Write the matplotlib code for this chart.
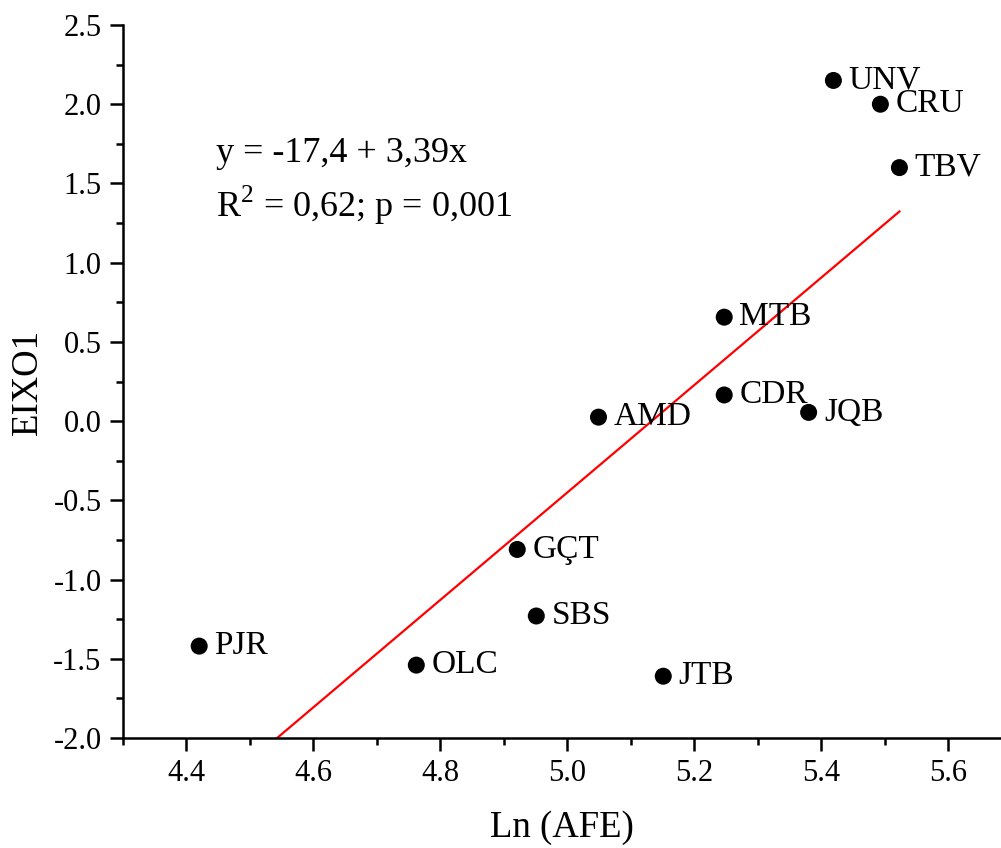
import matplotlib
matplotlib.use("Agg")
import matplotlib.pyplot as plt
import numpy as np
from matplotlib.ticker import MultipleLocator, FormatStrFormatter

plt.rcParams['font.family'] = ['Liberation Serif', 'DejaVu Serif']
plt.rcParams['mathtext.fontset'] = 'custom'
plt.rcParams['mathtext.rm'] = 'Liberation Serif'

labels = ["UNV", "CRU", "TBV", "MTB", "CDR", "JQB", "AMD", "GÇT", "SBS", "PJR", "OLC", "JTB"]
ln_afe = [5.419, 5.493, 5.523, 5.247, 5.247, 5.380, 5.049, 4.921, 4.951, 4.420, 4.762, 5.151]
eixo1 = [2.15, 2.00, 1.60, 0.656, 0.165, 0.055, 0.025, -0.81, -1.23, -1.42, -1.54, -1.61]

intercept = -17.4
slope = 3.39
fit_x = [(-2.0 - intercept) / slope, 5.523]

fig = plt.figure(figsize=(10.01, 8.48), dpi=100)
ax = fig.add_axes([123/1001, 110/848, (1001-123)/1001, (738-25)/848])

fx = np.array(fit_x)
ax.plot(fx, intercept + slope * fx, color='#ff0000', lw=1.6, zorder=2)
ax.scatter(ln_afe, eixo1, s=150, color='black', zorder=3, edgecolors='none')
for lx, ly, t in zip(ln_afe, eixo1, labels):
    ax.annotate(t, (lx, ly), xytext=(11, 0), textcoords='offset points',
                va='center', ha='left', fontsize=24)

ax.text(4.447, 1.635, "y = -17,4 + 3,39x", fontsize=26, va='baseline')
ax.text(4.447, 1.29, r"R$^2$ = 0,62; p = 0,001", fontsize=26, va='baseline')

ax.set_xlim(4.3, 5.683)
ax.set_ylim(-2.0, 2.5)
ax.xaxis.set_major_locator(MultipleLocator(0.2))
ax.xaxis.set_minor_locator(MultipleLocator(0.1))
ax.yaxis.set_major_locator(MultipleLocator(0.5))
ax.yaxis.set_minor_locator(MultipleLocator(0.25))
ax.yaxis.set_major_formatter(FormatStrFormatter('%.1f'))
ax.xaxis.set_major_formatter(FormatStrFormatter('%.1f'))

for s in ['top', 'right']:
    ax.spines[s].set_visible(False)
for s in ['left', 'bottom']:
    ax.spines[s].set_linewidth(1.8)
ax.tick_params(which='major', direction='out', length=9.4, width=1.8, labelsize=22, pad=6)
ax.tick_params(which='minor', direction='out', length=4.8, width=1.8)

ax.set_xlabel("Ln (AFE)", fontsize=26.5, labelpad=16)
ax.set_ylabel("EIXO1", fontsize=26.5, labelpad=6)

fig.savefig("out.png", dpi=100)
